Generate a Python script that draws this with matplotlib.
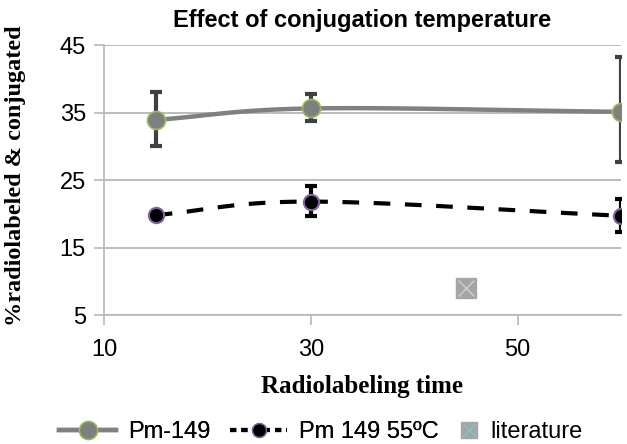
import numpy as np
import matplotlib
matplotlib.use('Agg')
import matplotlib.pyplot as plt
from matplotlib.lines import Line2D

# data
t_pm = [15, 30, 60]
pm149 = [33.9, 35.6, 35.1]
pm149_lo = [30.0, 33.7, 27.6]
pm149_hi = [38.1, 37.7, 43.2]

t_55 = [15, 30, 60]
pm55 = [19.8, 21.8, 19.7]
pm55_lo = [19.8, 19.7, 17.3]
pm55_hi = [19.8, 24.1, 22.2]

t_lit = [45]
lit = [9.0]

labels = ['Pm-149', 'Pm 149 55ºC', 'literature']

def smooth(x, y, n=40):
    # catmull-rom like excel smoothed lines
    x = np.asarray(x, float); y = np.asarray(y, float)
    px = np.concatenate([[2*x[0]-x[1]], x, [2*x[-1]-x[-2]]])
    py = np.concatenate([[2*y[0]-y[1]], y, [2*y[-1]-y[-2]]])
    xs, ys = [], []
    for i in range(1, len(px)-2):
        s = np.linspace(0, 1, n)
        for p, out in ((px, xs), (py, ys)):
            p0, p1, p2, p3 = p[i-1], p[i], p[i+1], p[i+2]
            out.extend(0.5*((2*p1) + (-p0+p2)*s + (2*p0-5*p1+4*p2-p3)*s**2 + (-p0+3*p1-3*p2+p3)*s**3))
    return xs, ys

plt.rcParams['font.family'] = 'Liberation Sans'
fig = plt.figure(figsize=(6.27, 4.44), dpi=100)
ax = fig.add_axes([104/627, 1-315/444, 517/627, 270/444])

ax.set_xlim(10, 60)
ax.set_ylim(5, 45)
ax.set_yticks([5, 15, 25, 35, 45])
ax.set_xticks([10, 30, 50])
ax.yaxis.grid(True, color='#b0b0b0', lw=1.2)
ax.set_axisbelow(True)
for s in ['top', 'right']:
    ax.spines[s].set_visible(False)
for s in ['left', 'bottom']:
    ax.spines[s].set_color('#b8b8b8')
    ax.spines[s].set_linewidth(1.2)
ax.tick_params(axis='both', labelsize=17, color='#b8b8b8', length=7, width=1.2)
ax.tick_params(axis='x', pad=10)
ax.tick_params(axis='y', pad=6)

gx, gy = smooth(t_pm, pm149)
ax.plot(gx, gy, color='#808080', lw=3.2, zorder=3)
ax.errorbar(t_pm, pm149, yerr=[np.subtract(pm149, pm149_lo), np.subtract(pm149_hi, pm149)],
            fmt='none', ecolor='#404040', elinewidth=3, capsize=4.5, capthick=3, zorder=2)
ax.plot(t_pm, pm149, 'o', ms=13, mfc='#7f7f7f', mec='#9bbb59', mew=1.2, zorder=4)

bx, by = smooth(t_55, pm55)
ax.plot(bx, by, color='black', lw=3, dashes=(4, 3.5), zorder=3)
ax.errorbar(t_55, pm55, yerr=[np.subtract(pm55, pm55_lo), np.subtract(pm55_hi, pm55)],
            fmt='none', ecolor='black', elinewidth=3, capsize=4.5, capthick=3, zorder=2)
ax.plot(t_55, pm55, 'o', ms=11, mfc='black', mec='#8064a2', mew=1.5, zorder=4)

ax.plot(t_lit, lit, 's', ms=14, mfc='#a5a5a5', mec='#a5a5a5', zorder=4)
ax.plot(t_lit, lit, 'x', ms=12, mec='#d0d0d0', mew=1, zorder=5)

fig.text(362/627, 1-20/444, 'Effect of conjugation temperature', fontsize=17,
         fontweight='bold', ha='center', va='center')
fig.text(362/627, 1-386/444, 'Radiolabeling time', family='Liberation Serif', fontsize=18,
         fontweight='bold', ha='center', va='center')
fig.text(16/627, 1-176/444, '%radiolabeled & conjugated', family='Liberation Serif',
         fontsize=17.5, fontweight='bold', rotation=90, ha='center', va='center')

line_handles = [
    Line2D([0], [0], color='#808080', lw=3.2, marker='o', ms=13, mfc='#7f7f7f', mec='#9bbb59'),
    Line2D([0], [0], color='black', lw=3, dashes=(1.5, 1.2), marker='o', ms=10, mfc='black', mec='#8064a2'),
]
lit_handle = (Line2D([0], [0], color='none', marker='s', ms=11, mfc='#a5a5a5', mec='#a5a5a5'),
              Line2D([0], [0], color='none', marker='x', ms=10, mec='#7ec3d6', mew=1))
leg1 = fig.legend(line_handles, labels[:2], loc='center',
                  bbox_to_anchor=(249/627, 1-432/444), ncol=2, frameon=False, fontsize=17,
                  handlelength=2.4, columnspacing=0.85, handletextpad=0.5, borderpad=0)
fig.add_artist(leg1)
fig.legend([lit_handle], labels[2:], loc='center',
           bbox_to_anchor=(522/627, 1-432/444), frameon=False, fontsize=17,
           handlelength=0.6, handletextpad=0.6, borderpad=0)

fig.savefig('out.png', dpi=100)
